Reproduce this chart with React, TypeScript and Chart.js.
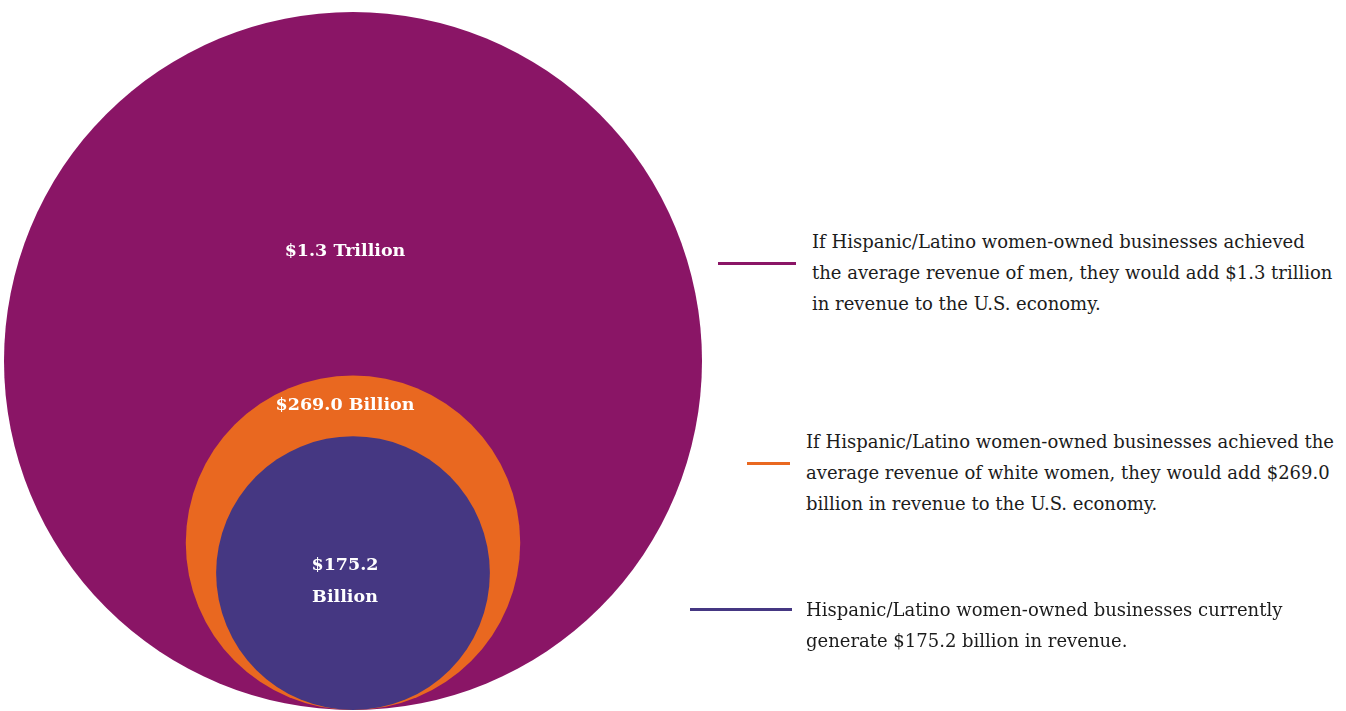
import React, { useEffect, useRef } from "react";
import { Chart, registerables } from "chart.js";

Chart.register(...registerables);

// ---- data ----
const categories = [
  "Revenue gap vs. men",
  "Revenue gap vs. white women",
  "Current revenue",
];
const valuesBillions = [1300, 269.0, 175.2];
const circleLabels = [["$1.3 Trillion"], ["$269.0 Billion"], ["$175.2", "Billion"]];
const legendTexts = [
  [
    "If Hispanic/Latino women-owned businesses achieved",
    "the average revenue of men, they would add $1.3 trillion",
    "in revenue to the U.S. economy.",
  ],
  [
    "If Hispanic/Latino women-owned businesses achieved the",
    "average revenue of white women, they would add $269.0",
    "billion in revenue to the U.S. economy.",
  ],
  [
    "Hispanic/Latino women-owned businesses currently",
    "generate $175.2 billion in revenue.",
  ],
];
const colors = ["#8A1566", "#E96820", "#453782"];

// ---- styling / layout (not data) ----
const radiusExponent = 0.467; // power scale for circle size
const legendLayout = [
  { textLeft: 812, textTop: 226, lineLeft: 718, lineWidth: 78, lineY: 263 },
  { textLeft: 806, textTop: 426, lineLeft: 747, lineWidth: 43, lineY: 463 },
  { textLeft: 806, textTop: 594, lineLeft: 690, lineWidth: 102, lineY: 609 },
];

const sizeOf = (v: number) => Math.pow(v, radiusExponent);

const labelPlugin = {
  id: "circleLabels",
  afterDatasetsDraw(chart: any) {
    const ctx = chart.ctx;
    const n = chart.data.datasets.length;
    const els = chart.data.datasets.map((_: any, i: number) => chart.getDatasetMeta(i).data[0]);
    ctx.save();
    ctx.fillStyle = "#ffffff";
    ctx.font = "bold 17.5px 'DejaVu Serif'";
    ctx.textAlign = "center";
    ctx.textBaseline = "middle";
    els.forEach((el: any, i: number) => {
      const r = el.options.radius;
      const cx = el.x;
      const cy = el.y;
      let ys: number[];
      if (i === 0) {
        ys = [cy - 0.315 * r];
      } else if (i < n - 1) {
        const inner = els[i + 1];
        const top = cy - r;
        const innerTop = inner.y - inner.options.radius;
        ys = [(top + innerTop) / 2];
      } else {
        ys = [cy - 8, cy + 24];
      }
      circleLabels[i].forEach((t, k) => ctx.fillText(t, cx - 8, ys[k]));
    });
    ctx.restore();
  },
};

export default function App() {
  const canvasRef = useRef<HTMLCanvasElement | null>(null);

  useEffect(() => {
    if (!canvasRef.current) return;
    const maxSize = sizeOf(Math.max(...valuesBillions));
    const chart = new Chart(canvasRef.current, {
      type: "scatter",
      data: {
        datasets: valuesBillions.map((v, i) => ({
          label: categories[i],
          data: [{ x: 0, y: sizeOf(v) }],
          backgroundColor: colors[i],
          borderWidth: 0,
          clip: false,
          order: valuesBillions.length - i,
          pointRadius: (c: any) => {
            const y = c.chart.scales.y;
            return y.getPixelForValue(0) - y.getPixelForValue(sizeOf(v));
          },
          pointHoverRadius: (c: any) => {
            const y = c.chart.scales.y;
            return y.getPixelForValue(0) - y.getPixelForValue(sizeOf(v));
          },
        })),
      },
      options: {
        animation: false,
        responsive: false,
        devicePixelRatio: 1,
        events: [],
        layout: { padding: { left: 4, right: 4, top: 12, bottom: 1 } },
        plugins: {
          legend: { display: false },
          tooltip: { enabled: false },
          title: { display: false },
        },
        scales: {
          x: { type: "linear", min: -maxSize, max: maxSize, display: false },
          y: { type: "linear", min: 0, max: 2 * maxSize, display: false },
        },
      },
      plugins: [labelPlugin],
    });
    return () => chart.destroy();
  }, []);

  return (
    <div
      style={{
        position: "fixed",
        left: 0,
        top: 0,
        width: 1346,
        height: 711,
        background: "#ffffff",
        overflow: "hidden",
      }}
    >
      <canvas
        ref={canvasRef}
        width={706}
        height={711}
        style={{ position: "absolute", left: 0, top: 0, width: 706, height: 711 }}
      />
      {legendTexts.map((lines, i) => {
        const L = legendLayout[i];
        return (
          <React.Fragment key={i}>
            <div
              style={{
                position: "absolute",
                left: L.lineLeft,
                top: L.lineY - 1.5,
                width: L.lineWidth,
                height: 3,
                background: colors[i],
              }}
            />
            <div
              style={{
                position: "absolute",
                left: L.textLeft,
                top: L.textTop,
                fontFamily: "'DejaVu Serif', serif",
                fontSize: 18,
                lineHeight: "31px",
                color: "#1c1c1c",
                whiteSpace: "nowrap",
              }}
            >
              {lines.map((t, k) => (
                <div key={k}>{t}</div>
              ))}
            </div>
          </React.Fragment>
        );
      })}
    </div>
  );
}
